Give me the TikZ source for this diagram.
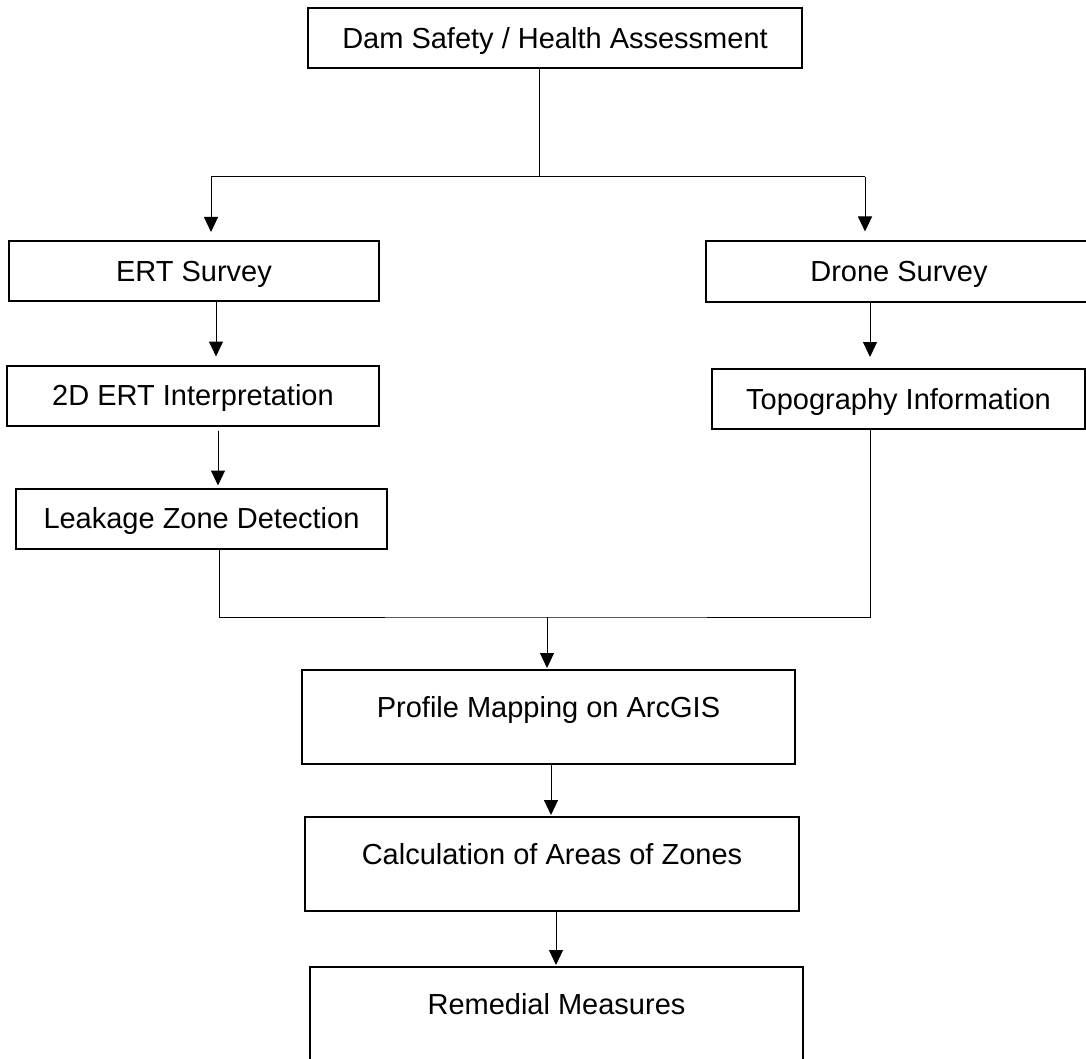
\documentclass[tikz,border=0pt]{standalone}
\usepackage{fontspec}
\setmainfont{Liberation Sans}
\usetikzlibrary{arrows.meta}

\begin{document}
\begin{tikzpicture}[x=1pt, y=-1pt,
    box/.style={draw, line width=2pt, inner sep=0pt, minimum height=60pt,
        text height=20.5pt, text depth=0pt, font=\fontsize{29}{34}\selectfont},
    tallbox/.style={box, text height=47pt, text depth=47pt},
    link/.style={line width=1pt},
    arr/.style={link, -{Triangle[length=15pt, width=14pt]}}]
    \clip (0,0) rectangle (1086,1059);

    \node[box, minimum width=494pt] (dam) at (555,38) {Dam Safety / Health Assessment};
    \node[box, minimum width=370pt] (ert) at (194,271) {ERT Survey};
    \node[box, minimum width=372pt] (interp) at (193,395.5) {2D ERT Interpretation};
    \node[box, minimum width=371pt] (leak) at (201.5,518.5) {Leakage Zone Detection};
    \node[box, minimum width=386pt] (drone) at (899,271.5) {Drone Survey};
    \node[box, minimum width=373pt] (topo) at (898.5,399) {Topography Information};
    \node[tallbox, minimum width=493pt] (arcgis) at (548.5,717) {Profile Mapping on ArcGIS};
    \node[tallbox, minimum width=494pt] (areas) at (552,864) {Calculation of Areas of Zones};
    \node[tallbox, minimum width=493pt] (remedy) at (556.5,1014) {Remedial Measures};

    \coordinate (split) at (539,177);
    \coordinate (splitL) at (211,177);
    \coordinate (splitR) at (865,177);
    \coordinate (merge) at (547,617);

    % top branch
    \draw[link] (dam.south -| split) -- (split);
    \draw[link] (splitL) -- (splitR);
    \draw[arr, shorten >=8pt] (splitL) -- (splitL |- ert.north);
    \draw[arr, shorten >=9pt] (splitR) -- (splitR |- drone.north);

    % left column
    \draw[arr, shorten >=8pt] ([xshift=22pt]ert.south) -- ([xshift=22pt]ert.south |- interp.north);
    \draw[arr, shorten <=4pt, shorten >=2pt] ([xshift=25pt]interp.south) -- ([xshift=25pt]interp.south |- leak.north);

    % right column
    \draw[arr, shorten >=11pt] ([xshift=-29pt]drone.south) -- ([xshift=-29pt]drone.south |- topo.north);

    % join
    \draw[link] ([xshift=17.5pt]leak.south) |- (merge) -| ([xshift=-28.5pt]topo.south);
    \draw[arr, shorten >=1pt] (merge) -- (merge |- arcgis.north);

    % bottom column
    \draw[arr, shorten >=1pt] ([xshift=2.5pt]arcgis.south) -- ([xshift=2.5pt]arcgis.south |- areas.north);
    \draw[arr, shorten >=1pt] ([xshift=4pt]areas.south) -- ([xshift=4pt]areas.south |- remedy.north);
\end{tikzpicture}
\end{document}
